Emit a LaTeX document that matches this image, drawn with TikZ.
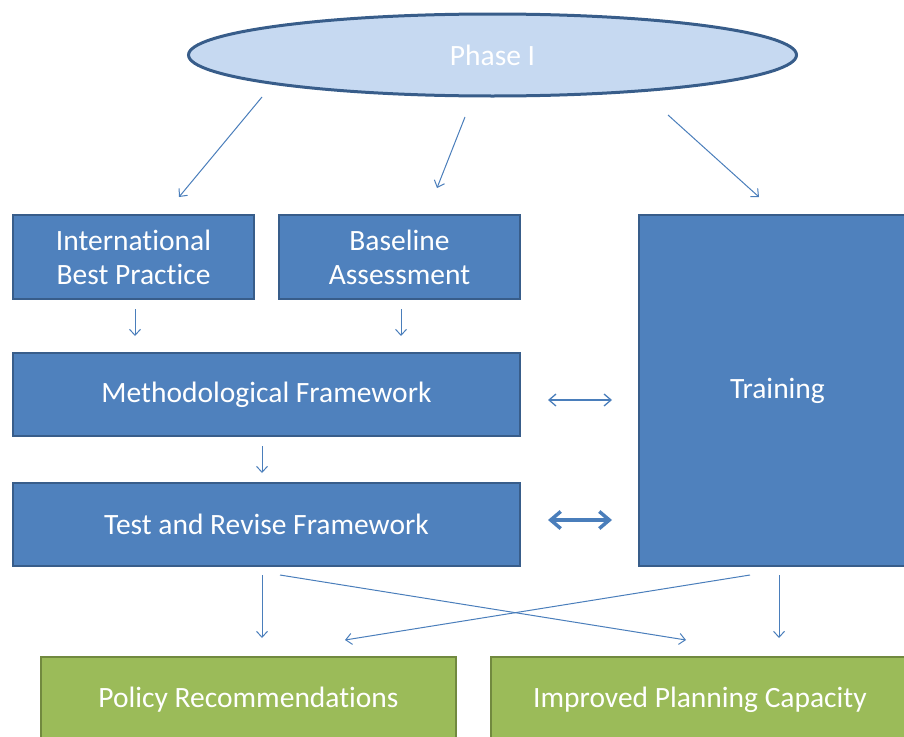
\documentclass[tikz,border=0pt]{standalone}
\usepackage{fontspec}
\setmainfont{Carlito}[Ligatures=NoCommon]
\usetikzlibrary{arrows.meta,shapes.geometric}
\definecolor{boxblue}{HTML}{4F81BD}
\definecolor{boxedge}{HTML}{385D8A}
\definecolor{ovalfill}{HTML}{C6D9F1}
\definecolor{boxgreen}{HTML}{9BBB59}
\definecolor{greenedge}{HTML}{71893F}
\definecolor{linkblue}{HTML}{4A7EBB}
\tikzset{
  labelfont/.style={font=\fontsize{29.5}{34}\selectfont},
  bluebox/.style={draw=boxedge, fill=boxblue, line width=2.5pt, text=white,
    labelfont, align=center, inner sep=0pt},
  greenbox/.style={draw=greenedge, fill=boxgreen, line width=2.5pt, text=white,
    labelfont, align=center, inner sep=0pt},
  link/.style={draw=linkblue, line width=1pt, -{Straight Barb[length=6pt,width=11pt]}},
  twoway/.style={draw=linkblue, line width=1.3pt, {Straight Barb[length=7pt,width=12pt]}-{Straight Barb[length=7pt,width=12pt]}},
  boldway/.style={draw=linkblue, line width=3.5pt, {Straight Barb[length=10pt,width=17pt]}-{Straight Barb[length=10pt,width=17pt]}},
}
\begin{document}
\begin{tikzpicture}[x=1pt,y=-1pt]
\useasboundingbox (0,0) rectangle (904,736);
\clip (0,0) rectangle (904,736);

% top phase oval
\node[ellipse, draw=boxedge, fill=ovalfill, line width=3pt, inner sep=0pt,
  minimum width=608pt, minimum height=82pt, text=white, labelfont] (phase) at (492.5,55) {Phase I};

% work packages
\node[bluebox, minimum width=241pt, minimum height=84pt] (ibp) at (133.5,257) {International\\Best Practice};
\node[bluebox, minimum width=241pt, minimum height=84pt] (base) at (399.5,257) {Baseline\\Assessment};
\node[bluebox, minimum width=277pt, minimum height=351pt] (train) at (777.5,390.5) {Training};
\node[bluebox, minimum width=507pt, minimum height=83pt] (meth) at (266.5,394.5) {Methodological Framework};
\node[bluebox, minimum width=507pt, minimum height=83pt] (test) at (266.5,524.5) {Test and Revise Framework};

% outcomes
\node[greenbox, minimum width=415pt, minimum height=86pt] (policy) at (248.5,700) {Policy Recommendations};
\node[greenbox, minimum width=418pt, minimum height=86pt] (capacity) at (700,700) {Improved Planning Capacity};

% connector end points
\coordinate (p1) at (262,97);   \coordinate (i1) at (179,197);
\coordinate (p2) at (465,117);  \coordinate (b1) at (437,188);
\coordinate (p3) at (668,115);  \coordinate (t1) at (759,197);
\coordinate (i2) at (135,309);  \coordinate (m1) at (135,336);
\coordinate (b2) at (401,309);  \coordinate (m2) at (401,336);
\coordinate (m3) at (262,446);  \coordinate (s1) at (262,473);
\coordinate (m4) at (548,400);  \coordinate (t2) at (612,400);
\coordinate (s4) at (548,520);  \coordinate (t3) at (612,520);
\coordinate (s2) at (262,575);  \coordinate (o1) at (262,638);
\coordinate (s3) at (280,575);  \coordinate (o2) at (686,640);
\coordinate (t4) at (750,575);  \coordinate (o3) at (345,640);
\coordinate (t5) at (779,575);  \coordinate (o4) at (779,638);

\draw[link] (p1) -- (i1);
\draw[link] (p2) -- (b1);
\draw[link] (p3) -- (t1);
\draw[link] (i2) -- (m1);
\draw[link] (b2) -- (m2);
\draw[link] (m3) -- (s1);
\draw[twoway] (m4) -- (t2);
\draw[boldway] (s4) -- (t3);
\draw[link] (s2) -- (o1);
\draw[link] (s3) -- (o2);
\draw[link] (t4) -- (o3);
\draw[link] (t5) -- (o4);
\end{tikzpicture}
\end{document}
